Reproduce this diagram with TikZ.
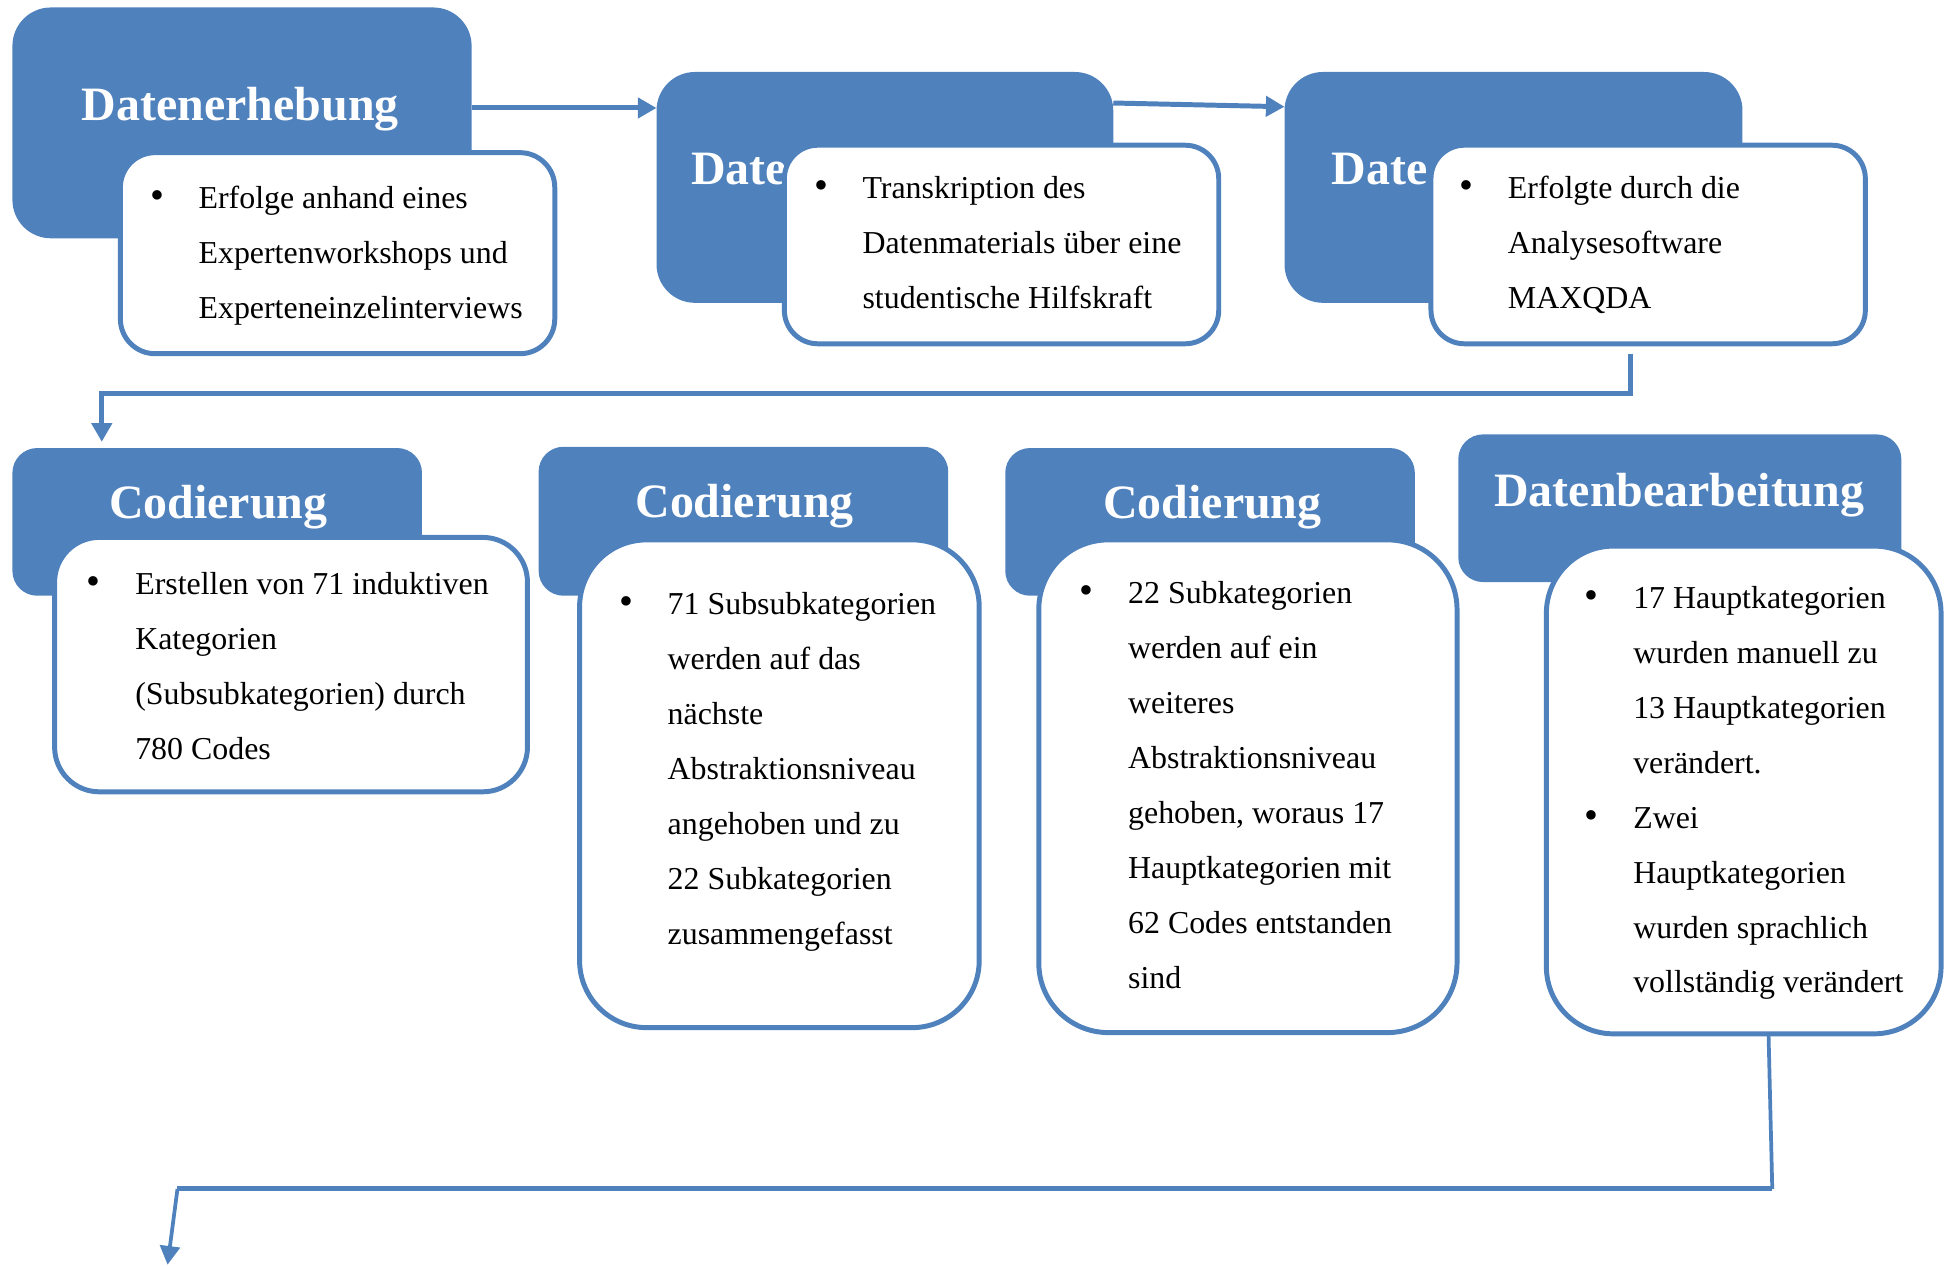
\documentclass[tikz,border=0pt]{standalone}
\usepackage{fontspec}
\setmainfont{Liberation Serif}
\usetikzlibrary{arrows.meta}
\definecolor{ofblue}{HTML}{4F81BD}
\newcommand{\blt}{{\fontsize{32bp}{32bp}\selectfont\textbullet}}
\begin{document}
\begin{tikzpicture}[x=1bp,y=-1bp,
  bluebox/.style={rectangle, fill=ofblue, draw=none, inner sep=0, outer sep=0, anchor=north west},
  whitebox/.style={rectangle, fill=white, draw=ofblue, line width=4bp, inner sep=0, outer sep=0, anchor=north west},
  htxt/.style={inner sep=0, outer sep=0, anchor=base west, text=white, font=\bfseries\fontsize{38.6bp}{46bp}\selectfont},
  btxt/.style={inner sep=0, outer sep=0, anchor=base west, font=\fontsize{25.7bp}{44.3bp}\selectfont},
  conn/.style={draw=ofblue, line width=4bp},
  tip/.style={-{Triangle[length=15bp,width=16bp]}}
]
\useasboundingbox (0,0) rectangle (1568,1020);

% ---------- top row ----------
\node[bluebox, minimum width=370bp, minimum height=186bp, rounded corners=31bp] (b1) at (10,6) {};
\node[htxt] (h1) at (66,97) {Datenerhebung};
\node[whitebox, minimum width=350bp, minimum height=162bp, rounded corners=28bp] (w1) at (97,123) {};
\node[btxt] (t1) at (121,168) {\begin{tabular}[t]{@{}p{39bp}@{}l@{}}
\blt & Erfolge anhand eines\\
 & Expertenworkshops und\\
 & Experteneinzelinterviews\end{tabular}};

\node[bluebox, minimum width=368bp, minimum height=186bp, rounded corners=31bp] (b2) at (529,58) {};
\node[htxt] (h2) at (557,149) {Date};
\node[whitebox, minimum width=350bp, minimum height=160bp, rounded corners=27bp] (w2) at (632,117) {};
\node[btxt] (t2) at (656,160) {\begin{tabular}[t]{@{}p{39bp}@{}l@{}}
\blt & Transkription des\\
 & Datenmaterials über eine\\
 & studentische Hilfskraft\end{tabular}};

\node[bluebox, minimum width=369bp, minimum height=186bp, rounded corners=31bp] (b3) at (1035,58) {};
\node[htxt] (h3) at (1073,149) {Date};
\node[whitebox, minimum width=350bp, minimum height=160bp, rounded corners=27bp] (w3) at (1153,117) {};
\node[btxt] (t3) at (1176,160) {\begin{tabular}[t]{@{}p{39bp}@{}l@{}}
\blt & Erfolgte durch die\\
 & Analysesoftware\\
 & MAXQDA\end{tabular}};

% ---------- second row ----------
\node[bluebox, minimum width=330bp, minimum height=119bp, rounded corners=20bp] (bA) at (10,361) {};
\node[htxt] (hA) at (88,418) {Codierung};
\node[whitebox, minimum width=381bp, minimum height=205bp, rounded corners=36bp] (wA) at (44,433) {};
\node[btxt] (tA) at (70,479) {\begin{tabular}[t]{@{}p{39bp}@{}l@{}}
\blt & Erstellen von 71 induktiven\\
 & Kategorien\\
 & (Subsubkategorien) durch\\
 & 780 Codes\end{tabular}};

\node[bluebox, minimum width=330bp, minimum height=120bp, rounded corners=20bp] (bB) at (434,360) {};
\node[htxt] (hB) at (512,417) {Codierung};
\node[whitebox, minimum width=322bp, minimum height=393bp, rounded corners=54bp] (wB) at (467,435) {};
\node[btxt] (tB) at (499,495) {\begin{tabular}[t]{@{}p{39bp}@{}l@{}}
\blt & 71 Subsubkategorien\\
 & werden auf das\\
 & nächste\\
 & Abstraktionsniveau\\
 & angehoben und zu\\
 & 22 Subkategorien\\
 & zusammengefasst\end{tabular}};

\node[bluebox, minimum width=330bp, minimum height=119bp, rounded corners=20bp] (bC) at (810,361) {};
\node[htxt] (hC) at (889,418) {Codierung};
\node[whitebox, minimum width=337bp, minimum height=397bp, rounded corners=56bp] (wC) at (837,435) {};
\node[btxt] (tC) at (870,486) {\begin{tabular}[t]{@{}p{39bp}@{}l@{}}
\blt & 22 Subkategorien\\
 & werden auf ein\\
 & weiteres\\
 & Abstraktionsniveau\\
 & gehoben, woraus 17\\
 & Hauptkategorien mit\\
 & 62 Codes entstanden\\
 & sind\end{tabular}};

\node[bluebox, minimum width=357bp, minimum height=119bp, rounded corners=20bp] (bD) at (1175,350) {};
\node[htxt] (hD) at (1204,408) {Datenbearbeitung};
\node[whitebox, minimum width=318bp, minimum height=393bp, rounded corners=54bp] (wD) at (1246,440) {};
\node[btxt] (tD) at (1277,490) {\begin{tabular}[t]{@{}p{39bp}@{}l@{}}
\blt & 17 Hauptkategorien\\
 & wurden manuell zu\\
 & 13 Hauptkategorien\\
 & verändert.\\
\blt & Zwei\\
 & Hauptkategorien\\
 & wurden sprachlich\\
 & vollständig verändert\end{tabular}};

% ---------- connectors ----------
\coordinate (c3a) at (1314,317);
\coordinate (c3b) at (82,317);
\coordinate (c4a) at (1428,958);
\coordinate (c4b) at (143,958);
\coordinate (c4end) at (135,1019);

\draw[conn, tip] (b1.east |- 0,87) -- (b2.west |- 0,87);
\draw[conn, tip] (b2.east |- 0,83) -- (b3.west |- 0,86);
\draw[conn, tip] ([yshift=-8bp]w3.south -| c3a) -- (c3a) -- (c3b) -- ([yshift=5bp]bA.north -| c3b);
\draw[conn, line width=3bp] (wD.south -| 1425,0) -- (c4a);
\draw[conn] (c4a) -- (c4b);
\draw[conn, line width=3bp, tip] (c4b) -- (c4end);
\end{tikzpicture}
\end{document}
